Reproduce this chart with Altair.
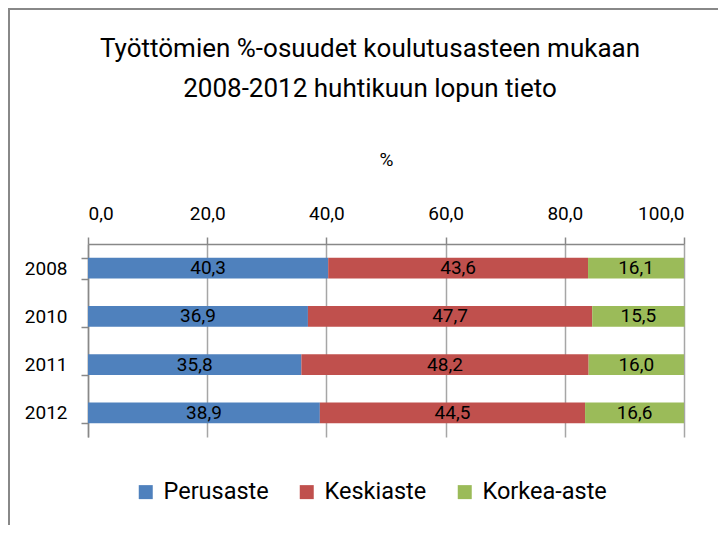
import altair as alt
import pandas as pd

years = ["2008", "2010", "2011", "2012"]
categories = ["Perusaste", "Keskiaste", "Korkea-aste"]
perusaste = [40.3, 36.9, 35.8, 38.9]
keskiaste = [43.6, 47.7, 48.2, 44.5]
korkea = [16.1, 15.5, 16.0, 16.6]
colors = ["#4F81BD", "#C0504D", "#9BBB59"]
tick_values = [0, 20, 40, 60, 80, 100]

rows = []
for i, y in enumerate(years):
    for j, (c, vals) in enumerate(zip(categories, [perusaste, keskiaste, korkea])):
        rows.append({"year": y, "category": c, "value": vals[i], "order": j})
df = pd.DataFrame(rows)

FONT = "Roboto"

base = alt.Chart(df).transform_stack(
    stack="value", as_=["x0", "x1"], groupby=["year"], sort=[alt.SortField("order")]
).transform_calculate(
    mid="(datum.x0 + datum.x1) / 2",
    label="replace(format(datum.value, '.1f'), '.', ',')",
)

yenc = alt.Y(
    "year:N",
    sort=years,
    scale=alt.Scale(paddingInner=0.565, paddingOuter=0.2825),
    axis=alt.Axis(
        title=None, tickBand="extent", labelFontSize=19, labelFont=FONT,
        labelColor="#000000", domainColor="#888888", tickColor="#888888",
        tickSize=7, labelPadding=14, domainWidth=1.5, tickWidth=1.5,
    ),
)

bars = base.mark_bar().encode(
    x=alt.X(
        "x0:Q",
        scale=alt.Scale(domain=[0, 100], nice=False),
        axis=alt.Axis(
            orient="top", values=tick_values, title="%",
            labelExpr="replace(format(datum.value, '.1f'), '.', ',')",
            labelFontSize=19, labelFont=FONT, labelColor="#000000",
            titleFontSize=19, titleFont=FONT, titleFontWeight="normal",
            titleColor="#000000", titlePadding=35,
            grid=True, gridColor="#a6a6a6", gridWidth=1.5,
            domainColor="#888888", domainWidth=1.5,
            tickColor="#888888", tickSize=7, tickWidth=1.5, labelPadding=14,
        ),
    ),
    x2="x1:Q",
    y=yenc,
    color=alt.Color(
        "category:N",
        sort=categories,
        scale=alt.Scale(domain=categories, range=colors),
        legend=alt.Legend(
            title=None, orient="none", legendX=46, legendY=236,
            direction="horizontal", symbolType="square", symbolSize=196,
            symbolStrokeWidth=0, labelFontSize=23.5, labelFont=FONT,
            labelColor="#000000", columnPadding=26, labelOffset=6,
            symbolOpacity=1,
        ),
    ),
    order=alt.Order("order:Q"),
)

texts = base.mark_text(fontSize=19, font=FONT, color="#000000").encode(
    x="mid:Q",
    y=alt.Y("year:N", sort=years),
    text="label:N",
)

border_top = alt.Chart(df).mark_rule(color="#888888", strokeWidth=2).encode(
    x=alt.value(-79), x2=alt.value(640), y=alt.value(-235)
)
border_left = alt.Chart(df).mark_rule(color="#888888", strokeWidth=2).encode(
    x=alt.value(-79), y=alt.value(-236), y2=alt.value(290)
)

chart = alt.layer(bars, texts, border_top, border_left).properties(
    width=596,
    height=193,
    title=alt.TitleParams(
        text=["Työttömien %-osuudet koulutusasteen mukaan", "2008-2012 huhtikuun lopun tieto"],
        fontSize=26, font=FONT, fontWeight="normal", color="#000000",
        anchor="middle", dx=-16, dy=-5, offset=-100, lineHeight=40,
    ),
    autosize=alt.AutoSizeParams(type="none"),
    padding={"left": 80, "top": 236, "right": 34, "bottom": 88},
    background="white",
).configure_view(stroke=None)

chart.save("out.html", embed_options={"renderer": "svg", "actions": False})
